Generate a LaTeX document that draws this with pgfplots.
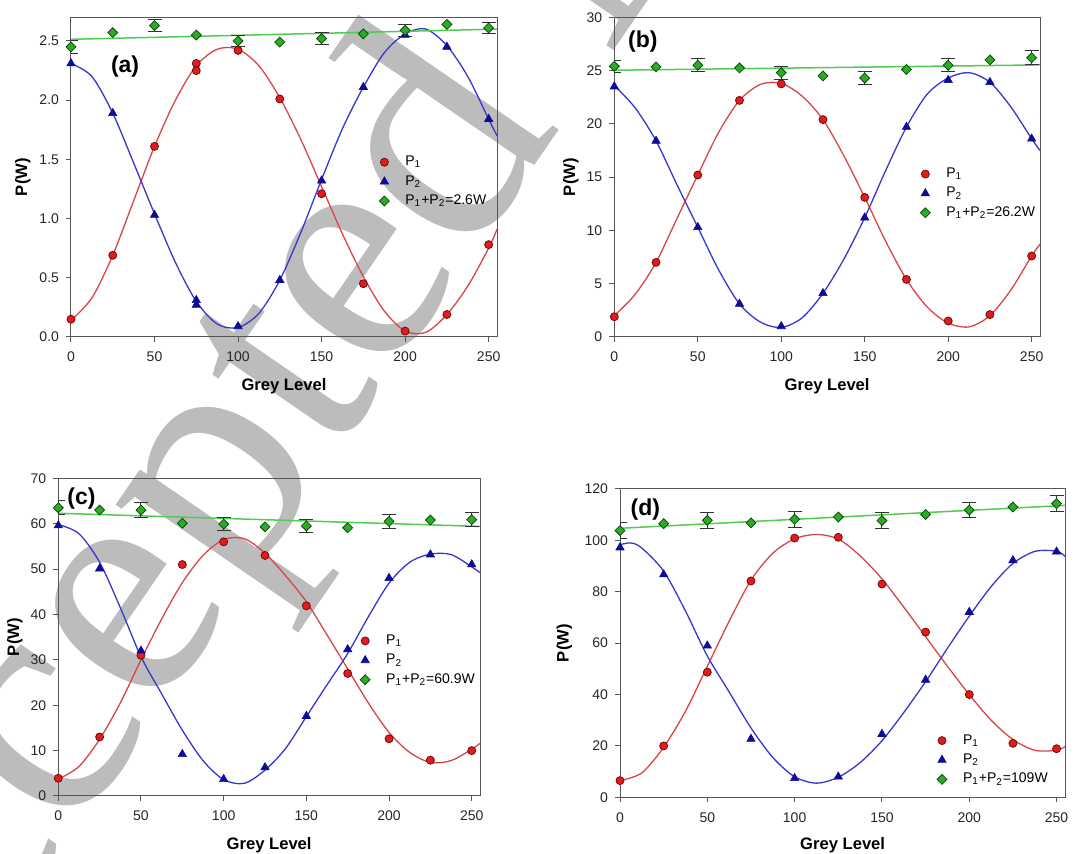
\documentclass[border=0pt]{standalone}
\usepackage{fontspec}
\setmainfont{Liberation Sans}
\newfontfamily\wmfont{Liberation Serif}
\usepackage{pgfplots}
\pgfplotsset{compat=1.18}

\definecolor{redfill}{RGB}{226,28,30}
\definecolor{redline}{RGB}{215,70,70}
\definecolor{reddraw}{RGB}{110,10,10}
\definecolor{bluefill}{RGB}{12,12,150}
\definecolor{blueline}{RGB}{55,55,205}
\definecolor{greenfill}{RGB}{45,170,40}
\definecolor{greendraw}{RGB}{10,80,10}
\definecolor{greenline}{RGB}{80,205,80}
\definecolor{framegray}{RGB}{85,85,85}
\definecolor{errgray}{RGB}{50,50,50}
\definecolor{wmgray}{RGB}{188,188,188}

\pgfplotsset{
  panel/.style={
    scale only axis,
    xmin=0, xmax=255, ymin=0,
    xtick={0,50,...,250},
    tick align=outside,
    tick pos=left,
    major tick length=2.5pt,
    axis line style={framegray, line width=0.5pt},
    every tick/.style={framegray, line width=0.5pt},
    tick label style={font=\fontsize{7}{8}\selectfont, text=black!85},
    xticklabel style={yshift=-1.5pt},
    /pgf/number format/assume math mode=true,
    label style={font=\bfseries\fontsize{8.3}{9}\selectfont},
    xlabel={Grey Level}, ylabel={P(W)},
    legend cell align=left,
    legend style={draw=none, fill=none, inner sep=0pt, row sep=0pt,
      font=\fontsize{7}{8}\selectfont,
      nodes={inner sep=1pt, text height=5.6pt, text depth=2.1pt}},
    legend image code/.code={\path[draw=none,fill=none] (-2.5pt,-3pt) rectangle (9.5pt,3pt); \draw[##1] plot coordinates {(0pt,0pt)};},
  },
  redcurve/.style={redline, line width=0.65pt, smooth, no marks, forget plot},
  bluecurve/.style={blueline, line width=0.65pt, smooth, no marks, forget plot},
  greencurve/.style={greenline, line width=0.75pt, no marks, forget plot},
  errplot/.style={draw=none, no marks, forget plot,
    error bars/.cd, y dir=both, y explicit,
    error bar style={draw=errgray, line width=0.5pt, solid},
    error mark options={rotate=90, draw=errgray, mark size=3.5pt, line width=0.5pt}},
  p1marks/.style={only marks, mark=*, mark size=2.0pt,
    mark options={fill=redfill, draw=reddraw, line width=0.4pt}},
  p2marks/.style={only marks, mark=triangle*, mark size=2.4pt,
    mark options={fill=bluefill, draw=bluefill, line width=0.3pt}},
  sumarks/.style={only marks, mark=square*, mark size=1.75pt,
    mark options={rotate=45, fill=greenfill, draw=greendraw, line width=0.4pt}},
}

\begin{document}
\begin{tikzpicture}
\path[use as bounding box] (0,0) rectangle (546pt,427pt);
% watermark
\node[rotate=55.5, anchor=base west, inner sep=0pt, text=wmgray,
  font=\wmfont\fontsize{166}{166}\selectfont] at (-74.5pt,-153pt) {Accepted Manuscript};

% ---------------- (a) ----------------
\begin{axis}[panel,
  at={(35.5pt,258.5pt)}, anchor=south west,
  width=213pt, height=159.85pt,
  ymax=2.7, ytick={0,0.5,...,2.5},
  yticklabel style={/pgf/number format/fixed, /pgf/number format/fixed zerofill, /pgf/number format/precision=1},
  xlabel style={at={(axis description cs:0.5,-0.153)}, anchor=center},
  ylabel style={at={(axis description cs:-0.113,0.5)}, anchor=center},
  legend style={at={(axis description cs:0.723,0.486)}, anchor=west},
]
\addplot[redcurve] coordinates {(0,0.14)(12.5,0.33)(25,0.69)(37.5,1.15)(50,1.61)(62.5,2.00)(75,2.29)(87.5,2.43)(100,2.43)(112.5,2.29)(125,2.02)(137.5,1.67)(150,1.27)(162.5,0.87)(175,0.51)(187.5,0.22)(200,0.05)(212.5,0.04)(225,0.19)(237.5,0.43)(250,0.75)(255,0.91)};
\addplot[bluecurve] coordinates {(0,2.31)(12.5,2.20)(25,1.89)(37.5,1.47)(50,1.04)(62.5,0.63)(75,0.30)(87.5,0.11)(100,0.08)(112.5,0.20)(125,0.48)(137.5,0.88)(150,1.33)(162.5,1.76)(175,2.11)(187.5,2.40)(200,2.56)(212.5,2.60)(225,2.46)(237.5,2.20)(250,1.84)(255,1.70)};
\addplot[greencurve] coordinates {(0,2.514)(255,2.600)};
\addplot[errplot] coordinates {(0,2.45) +- (0,0.055) (50,2.63) +- (0,0.05) (100,2.50) +- (0,0.045) (150,2.52) +- (0,0.05) (200,2.59) +- (0,0.05) (250,2.61) +- (0,0.05)};
\addplot[p1marks] coordinates {(0,0.15)(25,0.69)(50,1.61)(75,2.31)(75,2.25)(100,2.42)(125,2.01)(150,1.21)(175,0.45)(200,0.05)(225,0.19)(250,0.78)};
\addlegendentry{P\textsubscript{1}}
\addplot[p2marks] coordinates {(0,2.31)(25,1.89)(50,1.03)(75,0.31)(75,0.27)(100,0.09)(125,0.48)(150,1.32)(175,2.11)(200,2.55)(225,2.45)(250,1.84)};
\addlegendentry{P\textsubscript{2}}
\addplot[sumarks] coordinates {(0,2.45)(25,2.57)(50,2.63)(75,2.55)(100,2.50)(125,2.49)(150,2.52)(175,2.56)(200,2.59)(225,2.64)(250,2.61)};
\addlegendentry{P\textsubscript{1}+P\textsubscript{2}=2.6W}
\node[font=\bfseries\fontsize{11.5}{12}\selectfont] at (axis description cs:0.127,0.845) {(a)};
\end{axis}

% ---------------- (b) ----------------
\begin{axis}[panel,
  at={(307.15pt,258.5pt)}, anchor=south west,
  width=212.85pt, height=159.85pt,
  ymax=30, ytick={0,5,...,30},
  xlabel style={at={(axis description cs:0.5,-0.153)}, anchor=center},
  ylabel style={at={(axis description cs:-0.102,0.5)}, anchor=center},
  legend style={at={(axis description cs:0.718,0.449)}, anchor=west},
]
\addplot[redcurve] coordinates {(0,2.0)(12.5,4.0)(25,7.0)(37.5,11.1)(50,15.2)(62.5,19.2)(75,22.2)(87.5,23.7)(100,23.8)(112.5,22.6)(125,20.4)(137.5,17.0)(150,13.1)(162.5,9.0)(175,5.4)(187.5,2.8)(200,1.3)(212.5,0.95)(225,2.0)(237.5,4.4)(250,7.6)(255,8.7)};
\addplot[bluecurve] coordinates {(0,23.6)(12.5,21.5)(25,18.4)(37.5,14.3)(50,10.3)(62.5,6.3)(75,3.1)(87.5,1.4)(100,0.9)(112.5,1.8)(125,4.1)(137.5,7.3)(150,11.2)(162.5,15.6)(175,19.7)(187.5,22.8)(200,24.3)(212.5,24.8)(225,23.9)(237.5,21.6)(250,18.6)(255,17.5)};
\addplot[greencurve] coordinates {(0,25.03)(255,25.53)};
\addplot[errplot] coordinates {(0,25.4) +- (0,0.55) (50,25.5) +- (0,0.6) (100,24.8) +- (0,0.6) (150,24.3) +- (0,0.6) (200,25.5) +- (0,0.6) (250,26.2) +- (0,0.65)};
\addplot[p1marks] coordinates {(0,1.9)(25,7.0)(50,15.2)(75,22.2)(100,23.75)(125,20.4)(150,13.1)(175,5.4)(200,1.5)(225,2.1)(250,7.6)};
\addlegendentry{P\textsubscript{1}}
\addplot[p2marks] coordinates {(0,23.5)(25,18.4)(50,10.3)(75,3.1)(100,1.0)(125,4.1)(150,11.2)(175,19.7)(200,24.1)(225,23.9)(250,18.6)};
\addlegendentry{P\textsubscript{2}}
\addplot[sumarks] coordinates {(0,25.4)(25,25.35)(50,25.5)(75,25.25)(100,24.8)(125,24.5)(150,24.3)(175,25.1)(200,25.5)(225,26.0)(250,26.2)};
\addlegendentry{P\textsubscript{1}+P\textsubscript{2}=26.2W}
\node[font=\bfseries\fontsize{11.5}{12}\selectfont] at (axis description cs:0.067,0.924) {(b)};
\end{axis}

% ---------------- (c) ----------------
\begin{axis}[panel,
  at={(29.15pt,29pt)}, anchor=south west,
  width=210.85pt, height=158.85pt,
  ymax=70, ytick={0,10,...,70},
  xlabel style={at={(axis description cs:0.5,-0.154)}, anchor=center},
  ylabel style={at={(axis description cs:-0.103,0.5)}, anchor=center},
  legend style={at={(axis description cs:0.715,0.427)}, anchor=west},
]
\addplot[redcurve] coordinates {(0,3.7)(12.5,6.5)(25,12.5)(37.5,20.5)(50,30.0)(62.5,39.0)(75,47.0)(87.5,53.0)(100,56.5)(112.5,56.7)(125,53.5)(137.5,48.5)(150,42.8)(162.5,35.5)(175,28.0)(187.5,20.5)(200,14.0)(212.5,9.6)(225,7.4)(237.5,7.8)(250,10.3)(255,11.6)};
\addplot[bluecurve] coordinates {(0,59.8)(12.5,57.8)(25,51.5)(37.5,41.5)(50,30.7)(62.5,22.5)(75,14.5)(87.5,7.8)(100,3.6)(112.5,2.8)(125,5.7)(137.5,10.5)(150,17.5)(162.5,24.5)(175,31.4)(187.5,39.5)(200,46.9)(212.5,51.5)(225,53.3)(237.5,53.2)(250,50.5)(255,49.2)};
\addplot[greencurve] coordinates {(0,62.3)(255,59.4)};
\addplot[errplot] coordinates {(0,63.5) +- (0,1.5) (50,63.0) +- (0,1.6) (100,59.9) +- (0,1.5) (150,59.5) +- (0,1.5) (200,60.5) +- (0,1.6) (250,60.9) +- (0,1.6)};
\addplot[p1marks] coordinates {(0,3.9)(25,13.0)(50,31.0)(75,51.0)(100,56.0)(125,53.0)(150,41.9)(175,27.0)(200,12.6)(225,7.9)(250,10.0)};
\addlegendentry{P\textsubscript{1}}
\addplot[p2marks] coordinates {(0,59.6)(25,50.1)(50,32.0)(75,9.2)(100,3.7)(125,6.3)(150,17.6)(175,32.3)(200,48.0)(225,53.2)(250,51.0)};
\addlegendentry{P\textsubscript{2}}
\addplot[sumarks] coordinates {(0,63.5)(25,63.0)(50,63.0)(75,60.1)(100,59.9)(125,59.3)(150,59.5)(175,59.1)(200,60.5)(225,60.8)(250,60.9)};
\addlegendentry{P\textsubscript{1}+P\textsubscript{2}=60.9W}
\node[font=\bfseries\fontsize{11.5}{12}\selectfont] at (axis description cs:0.055,0.937) {(c)};
\end{axis}

% ---------------- (d) ----------------
\begin{axis}[panel,
  at={(310pt,28.35pt)}, anchor=south west,
  width=222.65pt, height=154.15pt,
  ymax=120, ytick={0,20,...,120},
  xlabel style={at={(axis description cs:0.5,-0.155)}, anchor=center},
  ylabel style={at={(axis description cs:-0.125,0.5)}, anchor=center},
  legend style={at={(axis description cs:0.711,0.121)}, anchor=west},
]
\addplot[redcurve] coordinates {(0,6.5)(12.5,9.5)(25,19.5)(37.5,33.5)(50,51.0)(62.5,68.5)(75,84.5)(87.5,95.0)(100,100.6)(112.5,102.3)(125,100.5)(137.5,94.0)(150,85.0)(162.5,74.0)(175,62.5)(187.5,51.0)(200,40.0)(212.5,30.0)(225,22.5)(237.5,18.3)(250,18.3)(255,19.8)};
\addplot[bluecurve] coordinates {(0,98.3)(6.25,99.0)(12.5,97.0)(25,88.0)(37.5,72.5)(50,55.0)(62.5,41.0)(75,27.0)(87.5,15.5)(100,8.0)(112.5,5.5)(125,7.8)(137.5,13.5)(150,22.0)(162.5,33.0)(175,45.0)(187.5,58.0)(200,70.5)(212.5,82.0)(225,91.0)(237.5,95.7)(250,95.8)(255,93.7)};
\addplot[greencurve] coordinates {(0,104.7)(255,113.6)};
\addplot[errplot] coordinates {(0,103.8) +- (0,3.0) (50,107.8) +- (0,3.1) (100,108.2) +- (0,3.0) (150,107.7) +- (0,3.1) (200,111.8) +- (0,3.0) (250,114.3) +- (0,3.1)};
\addplot[p1marks] coordinates {(0,6.5)(25,20.0)(50,48.7)(75,84.2)(100,100.9)(125,101.2)(150,83.0)(175,64.3)(200,40.0)(225,21.0)(250,18.9)};
\addlegendentry{P\textsubscript{1}}
\addplot[p2marks] coordinates {(0,97.2)(25,86.7)(50,59.0)(75,22.7)(100,7.4)(125,8.0)(150,24.6)(175,45.7)(200,72.1)(225,92.2)(250,95.6)};
\addlegendentry{P\textsubscript{2}}
\addplot[sumarks] coordinates {(0,103.8)(25,106.5)(50,107.8)(75,106.8)(100,108.2)(125,109.1)(150,107.7)(175,110.1)(200,111.8)(225,113.0)(250,114.3)};
\addlegendentry{P\textsubscript{1}+P\textsubscript{2}=109W}
\node[font=\bfseries\fontsize{11.5}{12}\selectfont] at (axis description cs:0.057,0.932) {(d)};
\end{axis}
\end{tikzpicture}
\end{document}
